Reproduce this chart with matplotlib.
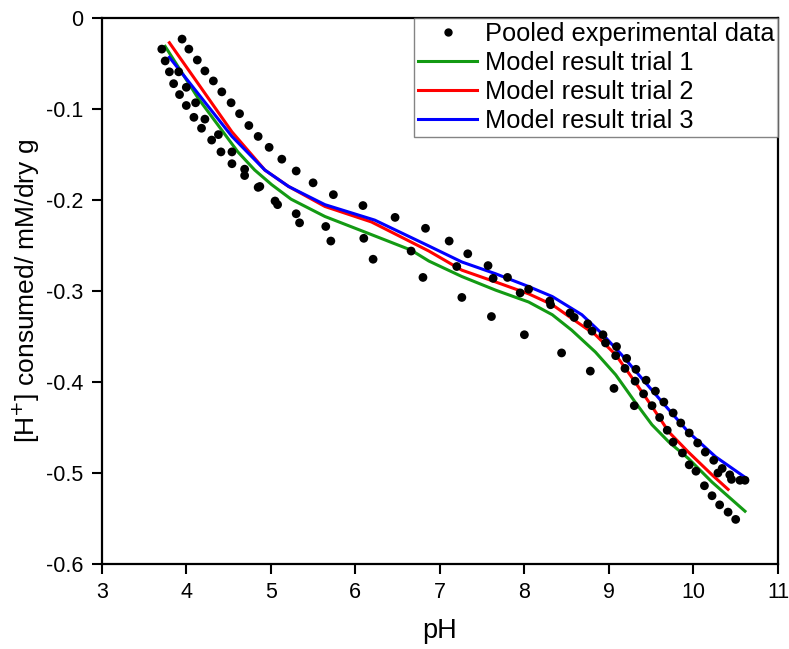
import matplotlib
matplotlib.use("Agg")
import matplotlib.pyplot as plt
from matplotlib.lines import Line2D

plt.rcParams['font.family'] = ['Liberation Sans', 'DejaVu Sans']

# Pooled titration data (pH, [H+] consumed in mM per dry g)
ph_exp = [3.71, 3.95, 3.75, 3.80, 3.91, 4.03, 3.85, 4.00, 4.13, 3.92,
          4.11, 4.00, 4.22, 4.09, 4.22, 4.32, 4.18, 4.42, 4.38, 4.30,
          4.53, 4.41, 4.54, 4.63, 4.54, 4.74, 4.69, 4.69, 4.85, 4.98,
          4.85, 4.87, 5.13, 5.05, 5.08, 5.30, 5.50, 5.30, 5.34, 5.74,
          5.65, 5.71, 6.09, 6.10, 6.21, 6.47, 6.66, 6.83, 6.80, 7.11,
          7.33, 7.20, 7.26, 7.57, 7.63, 7.61, 7.80, 7.95, 8.05, 8.00,
          8.30, 8.31, 8.44, 8.54, 8.59, 8.78, 8.75, 8.80, 8.93, 8.96,
          9.06, 9.09, 9.08, 9.21, 9.19, 9.30, 9.32, 9.31, 9.44, 9.41,
          9.55, 9.51, 9.60, 9.65, 9.69, 9.76, 9.76, 9.85, 9.87, 9.95,
          9.95, 10.05, 10.03, 10.14, 10.13, 10.24, 10.22, 10.34, 10.29, 10.31,
          10.43, 10.45, 10.41, 10.55, 10.61, 10.50]
h_exp = [-0.034, -0.023, -0.047, -0.059, -0.059, -0.034, -0.072, -0.076, -0.046, -0.084,
         -0.093, -0.096, -0.058, -0.109, -0.111, -0.069, -0.121, -0.081, -0.128, -0.134,
         -0.093, -0.147, -0.147, -0.105, -0.160, -0.118, -0.166, -0.173, -0.130, -0.142,
         -0.186, -0.185, -0.155, -0.201, -0.205, -0.168, -0.181, -0.215, -0.225, -0.194,
         -0.229, -0.245, -0.206, -0.242, -0.265, -0.219, -0.256, -0.231, -0.285, -0.245,
         -0.259, -0.273, -0.307, -0.272, -0.286, -0.328, -0.285, -0.302, -0.298, -0.348,
         -0.311, -0.315, -0.368, -0.324, -0.329, -0.388, -0.336, -0.344, -0.348, -0.357,
         -0.407, -0.361, -0.371, -0.374, -0.385, -0.426, -0.386, -0.399, -0.398, -0.413,
         -0.410, -0.426, -0.439, -0.422, -0.453, -0.434, -0.466, -0.445, -0.478, -0.456,
         -0.491, -0.467, -0.498, -0.477, -0.514, -0.486, -0.525, -0.495, -0.500, -0.535,
         -0.502, -0.507, -0.543, -0.508, -0.508, -0.551]

# Model fits
ph_trial1 = [3.75, 4.14, 4.61, 4.81, 5.01, 5.24, 5.64, 6.11, 6.66, 6.87, 7.26, 7.66,
             8.05, 8.33, 8.56, 8.84, 9.08, 9.31, 9.51, 9.71, 9.94, 10.22, 10.61]
h_trial1 = [-0.031, -0.088, -0.147, -0.167, -0.183, -0.199, -0.218, -0.235, -0.255, -0.267,
            -0.284, -0.299, -0.312, -0.326, -0.343, -0.367, -0.392, -0.422, -0.447, -0.466,
            -0.484, -0.510, -0.542]

ph_trial2 = [3.80, 4.14, 4.54, 4.93, 5.21, 5.64, 6.19, 6.87, 7.26, 7.66, 8.05, 8.33,
             8.56, 8.84, 9.08, 9.31, 9.51, 9.71, 9.94, 10.22, 10.41]
h_trial2 = [-0.027, -0.072, -0.125, -0.167, -0.185, -0.207, -0.224, -0.256, -0.277, -0.290,
            -0.303, -0.315, -0.330, -0.348, -0.370, -0.400, -0.427, -0.455, -0.477, -0.502,
            -0.518]

ph_trial3 = [3.80, 4.14, 4.54, 4.93, 5.21, 5.64, 6.23, 6.86, 7.26, 7.66, 8.05, 8.33,
             8.68, 8.92, 9.15, 9.39, 9.63, 9.94, 10.26, 10.63]
h_trial3 = [-0.043, -0.083, -0.130, -0.167, -0.185, -0.205, -0.222, -0.250, -0.268, -0.281,
            -0.295, -0.306, -0.326, -0.347, -0.370, -0.396, -0.422, -0.455, -0.482, -0.506]

GREEN = '#139a13'
RED = '#ff0000'
BLUE = '#0000ff'

fig = plt.figure(figsize=(7.89, 6.49), dpi=100)
ax = fig.add_axes([0.129, 0.131, 0.857, 0.841])

ax.plot(ph_trial1, h_trial1, color=GREEN, lw=2.2, zorder=2)
ax.plot(ph_trial2, h_trial2, color=RED, lw=2.2, zorder=2)
ax.plot(ph_trial3, h_trial3, color=BLUE, lw=2.2, zorder=2)
ax.scatter(ph_exp, h_exp, s=40, color='black', edgecolors='none', zorder=3)

ax.set_xlim(3, 11)
ax.set_ylim(-0.6, 0)
ax.set_xticks(range(3, 12))
ax.set_yticks([-0.6, -0.5, -0.4, -0.3, -0.2, -0.1, 0])
ax.set_yticklabels(['-0.6', '-0.5', '-0.4', '-0.3', '-0.2', '-0.1', '0'])
ax.tick_params(direction='out', length=7, width=1.5, labelsize=15.5, pad=6)
for sp in ax.spines.values():
    sp.set_linewidth(1.6)

ax.set_xlabel('pH', fontsize=19.5, labelpad=11)
ax.set_ylabel(r'[H$^{+}$] consumed/ mM/dry g', fontsize=19, labelpad=3)

handles = [
    Line2D([], [], ls='none', marker='o', ms=5, color='black'),
    Line2D([], [], color=GREEN, lw=2.2),
    Line2D([], [], color=RED, lw=2.2),
    Line2D([], [], color=BLUE, lw=2.2),
]
labels = ['Pooled experimental data', 'Model result trial 1',
          'Model result trial 2', 'Model result trial 3']
leg = ax.legend(handles, labels, loc='upper right', bbox_to_anchor=(1, 1),
                borderaxespad=0, fontsize=18.3, frameon=True, fancybox=False,
                handlelength=2.35, handletextpad=0.28, labelspacing=0.2,
                borderpad=0.15)
leg.get_frame().set_edgecolor('#666666')
leg.get_frame().set_linewidth(1.0)

fig.savefig('out.png', dpi=100)
